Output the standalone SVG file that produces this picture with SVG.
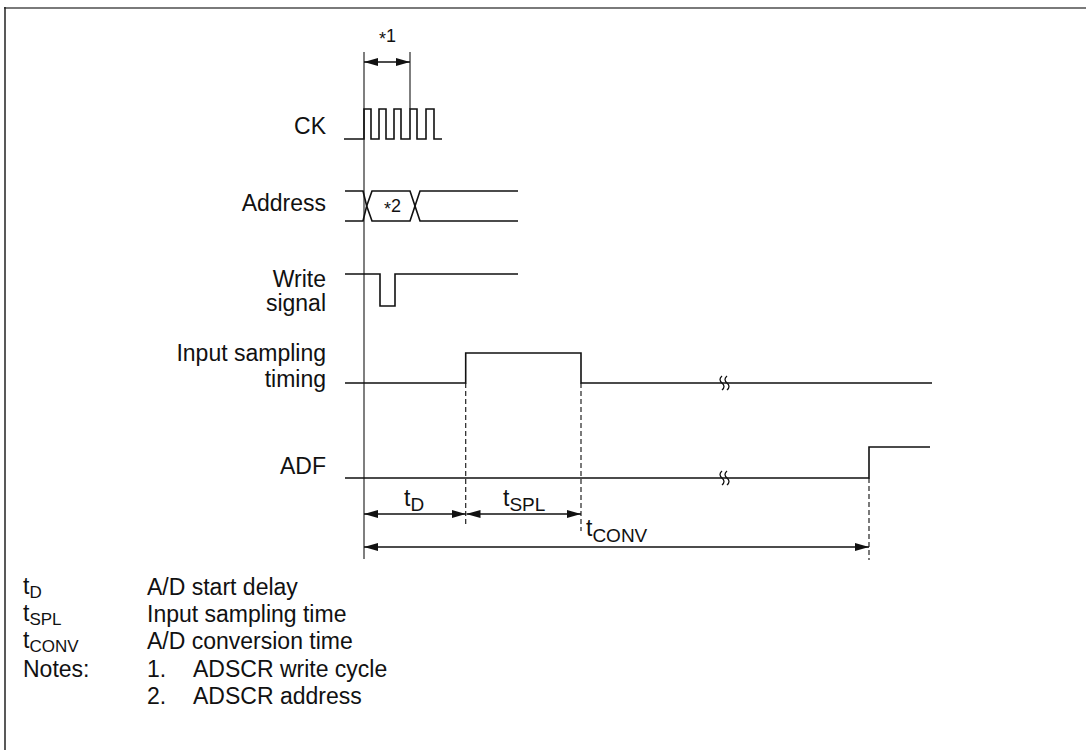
<svg xmlns="http://www.w3.org/2000/svg" width="1086" height="750" viewBox="0 0 1086 750">
<style>
text{font-family:"Liberation Sans",Arial,sans-serif;fill:#111;}
.lbl{font-size:23px;text-anchor:end;}
.leg{font-size:23px;}
.sub{font-size:19px;}
.lsub{font-size:17px;}
.small{font-size:18px;}
.wave{fill:none;stroke:#111;stroke-width:1.6;}
.ref{fill:none;stroke:#555;stroke-width:1.5;}
.dash{fill:none;stroke:#222;stroke-width:1.2;stroke-dasharray:5,3;}
.dim{fill:none;stroke:#111;stroke-width:1.3;marker-start:url(#ah);marker-end:url(#ah);}
.brk{fill:none;stroke:#111;stroke-width:1.3;}
</style>
<defs>
<marker id="ah" viewBox="0 0 14 8" refX="14" refY="4" markerWidth="14" markerHeight="8" markerUnits="userSpaceOnUse" orient="auto-start-reverse">
<path d="M0,0 L14,4 L0,8 z" fill="#111"/>
</marker>
</defs>
<rect width="1086" height="750" fill="#fff"/>
<g id="frame">
<path d="M4,8 H1086" fill="none" stroke="#7a7a7a" stroke-width="2"/>
<path d="M5,7 V750" fill="none" stroke="#222" stroke-width="1.5"/>
</g>
<g id="connectors">
<path class="ref" d="M364,52 V559"/>
<path class="ref" d="M410,52 V109"/>
<path class="dim" d="M364,62 H410"/>
<path class="dash" d="M465.7,383 V527"/>
<path class="dash" d="M581,383 V531"/>
<path class="dash" d="M869,478 V560"/>
<path class="dim" d="M364,514 H465.7"/>
<path class="dim" d="M466.5,514 H581"/>
<path class="dim" d="M364,547 H869"/>
</g>
<g id="note1">
<text class="small" x="379" y="42"><tspan dy="3">*</tspan><tspan dy="-3">1</tspan></text>
</g>
<g id="ck">
<text class="lbl" x="326" y="134">CK</text>
<path class="wave" d="M344,139 H364 V109 H371 V139 H379 V109 H386 V139 H394 V109 H401 V139 H410 V109 H417 V139 H426 V109 H434 V139 H442"/>
</g>
<g id="address">
<text class="lbl" x="326" y="211">Address</text>
<path class="wave" d="M345,191 H363 L366.7,206 L363,221 H345"/>
<path class="wave" d="M372,191 L366.7,206 L372,221 H410 L415,206 L410,191 Z"/>
<path class="wave" d="M518,191 H420 L415,206 L420,221 H518"/>
<text class="small" x="384" y="212"><tspan dy="3">*</tspan><tspan dy="-3">2</tspan></text>
</g>
<g id="write">
<text class="lbl" x="326" y="287">Write</text>
<text class="lbl" x="326" y="311">signal</text>
<path class="wave" d="M345,274 H380 V306 H395 V274 H518"/>
</g>
<g id="sampling">
<text class="lbl" x="326" y="361">Input sampling</text>
<text class="lbl" x="326" y="387">timing</text>
<path class="wave" d="M345,383 H465.7 V353 H581 V383 H932"/>
<path class="brk" d="M722,376 q-4,3.5 0,7 q4,3.5 0,7 M727,376 q-4,3.5 0,7 q4,3.5 0,7"/>
</g>
<g id="adf">
<text class="lbl" x="326" y="474">ADF</text>
<path class="wave" d="M345,478 H869 V447 H930"/>
<path class="brk" d="M722,471 q-4,3.5 0,7 q4,3.5 0,7 M727,471 q-4,3.5 0,7 q4,3.5 0,7"/>
</g>
<g id="dimlabels">
<text class="leg" x="404" y="506">t<tspan class="sub" dy="5">D</tspan></text>
<text class="leg" x="503" y="506">t<tspan class="sub" dy="5">SPL</tspan></text>
<text class="leg" x="586" y="536">t<tspan class="sub" dy="6">CONV</tspan></text>
</g>
<g id="legend">
<text class="leg" x="23" y="594">t<tspan class="lsub" dy="4">D</tspan></text>
<text class="leg" x="147" y="595">A/D start delay</text>
<text class="leg" x="23" y="621">t<tspan class="lsub" dy="4">SPL</tspan></text>
<text class="leg" x="147" y="622">Input sampling time</text>
<text class="leg" x="23" y="648">t<tspan class="lsub" dy="4">CONV</tspan></text>
<text class="leg" x="147" y="649">A/D conversion time</text>
<text class="leg" x="23" y="677">Notes:</text>
<text class="leg" x="147" y="677">1.</text>
<text class="leg" x="193" y="677">ADSCR write cycle</text>
<text class="leg" x="147" y="704">2.</text>
<text class="leg" x="193" y="704">ADSCR address</text>
</g>
</svg>
